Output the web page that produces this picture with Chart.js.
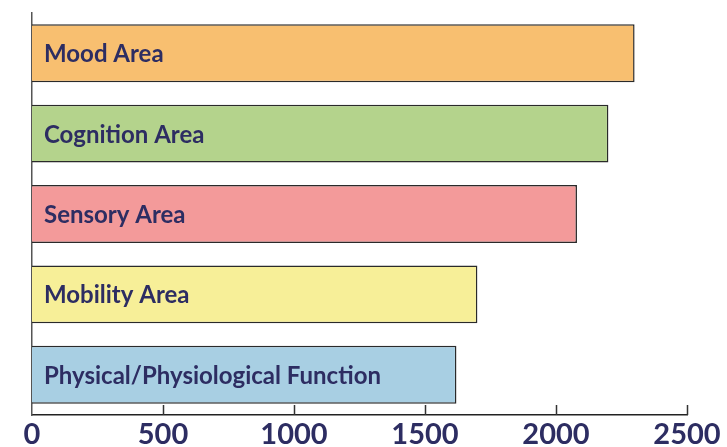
<!DOCTYPE html>
<html>
<head>
<meta charset="utf-8">
<script src="https://cdn.jsdelivr.net/npm/chart.js@4.4.0/dist/chart.umd.min.js"></script>
<style>
    html, body { margin: 0; padding: 0; background: #ffffff; }
    #wrap { width: 727px; height: 447px; position: relative; }
</style>
</head>
<body>
<div id="wrap"><canvas id="areaChart"></canvas></div>
<script>
// Chart data
const categories = ['Mood Area', 'Cognition Area', 'Sensory Area', 'Mobility Area', 'Physical/Physiological Function'];
const values = [2300, 2200, 2080, 1700, 1620];
const barColors = ['#f8bf70', '#b4d38c', '#f39a9a', '#f7ef98', '#a8cfe3'];
const tickValues = [0, 500, 1000, 1500, 2000, 2500];

const navy = '#2d2d62';

// Writes the category name inside each bar and draws the inward tick marks
const barLabelsPlugin = {
    id: 'barLabels',
    afterDatasetsDraw(chart) {
        const ctx = chart.ctx;
        const meta = chart.getDatasetMeta(0);
        ctx.save();
        ctx.font = 'bold 24px Lato';
        ctx.fillStyle = navy;
        ctx.textBaseline = 'alphabetic';
        ctx.textAlign = 'left';
        meta.data.forEach((bar, i) => {
            ctx.fillText(chart.data.labels[i], bar.base + 12, bar.y + 9);
        });
        ctx.restore();
    },
    afterDraw(chart) {
        const ctx = chart.ctx;
        const xScale = chart.scales.x;
        const bottom = chart.chartArea.bottom;
        ctx.save();
        ctx.strokeStyle = '#333333';
        ctx.lineWidth = 1.5;
        tickValues.forEach(v => {
            if (v === 0) return;
            const px = Math.round(xScale.getPixelForValue(v)) + 0.5;
            ctx.beginPath();
            ctx.moveTo(px, bottom - 10);
            ctx.lineTo(px, bottom);
            ctx.stroke();
        });
        ctx.restore();
    }
};

const ctx = document.getElementById('areaChart').getContext('2d');
new Chart(ctx, {
    type: 'bar',
    data: {
        labels: categories,
        datasets: [{
            data: values,
            backgroundColor: barColors,
            borderColor: '#2a2a2a',
            borderWidth: 1.5,
            borderSkipped: 'left',
            categoryPercentage: 1,
            barPercentage: 0.72
        }]
    },
    options: {
        indexAxis: 'y',
        responsive: true,
        maintainAspectRatio: false,
        animation: false,
        layout: {
            padding: { top: 13, right: 40, left: 0, bottom: 0 }
        },
        plugins: {
            legend: { display: false },
            tooltip: { enabled: false }
        },
        scales: {
            x: {
                min: 0,
                max: 2500,
                afterBuildTicks(scale) {
                    scale.ticks = tickValues.map(v => ({ value: v }));
                },
                afterFit(scale) {
                    scale.height = 32;
                },
                grid: { display: false, drawTicks: false },
                border: { display: true, color: '#222222', width: 1.5 },
                ticks: {
                    color: navy,
                    padding: 2,
                    font: { family: 'Lato', size: 29, weight: 'bold' },
                    maxRotation: 0,
                    callback: value => String(value)
                }
            },
            y: {
                afterFit(scale) {
                    scale.width = 32;
                },
                grid: { display: false, drawTicks: false },
                border: { display: true, color: '#555555', width: 1.5 },
                ticks: { display: false }
            }
        }
    },
    plugins: [barLabelsPlugin]
});
</script>
</body>
</html>
